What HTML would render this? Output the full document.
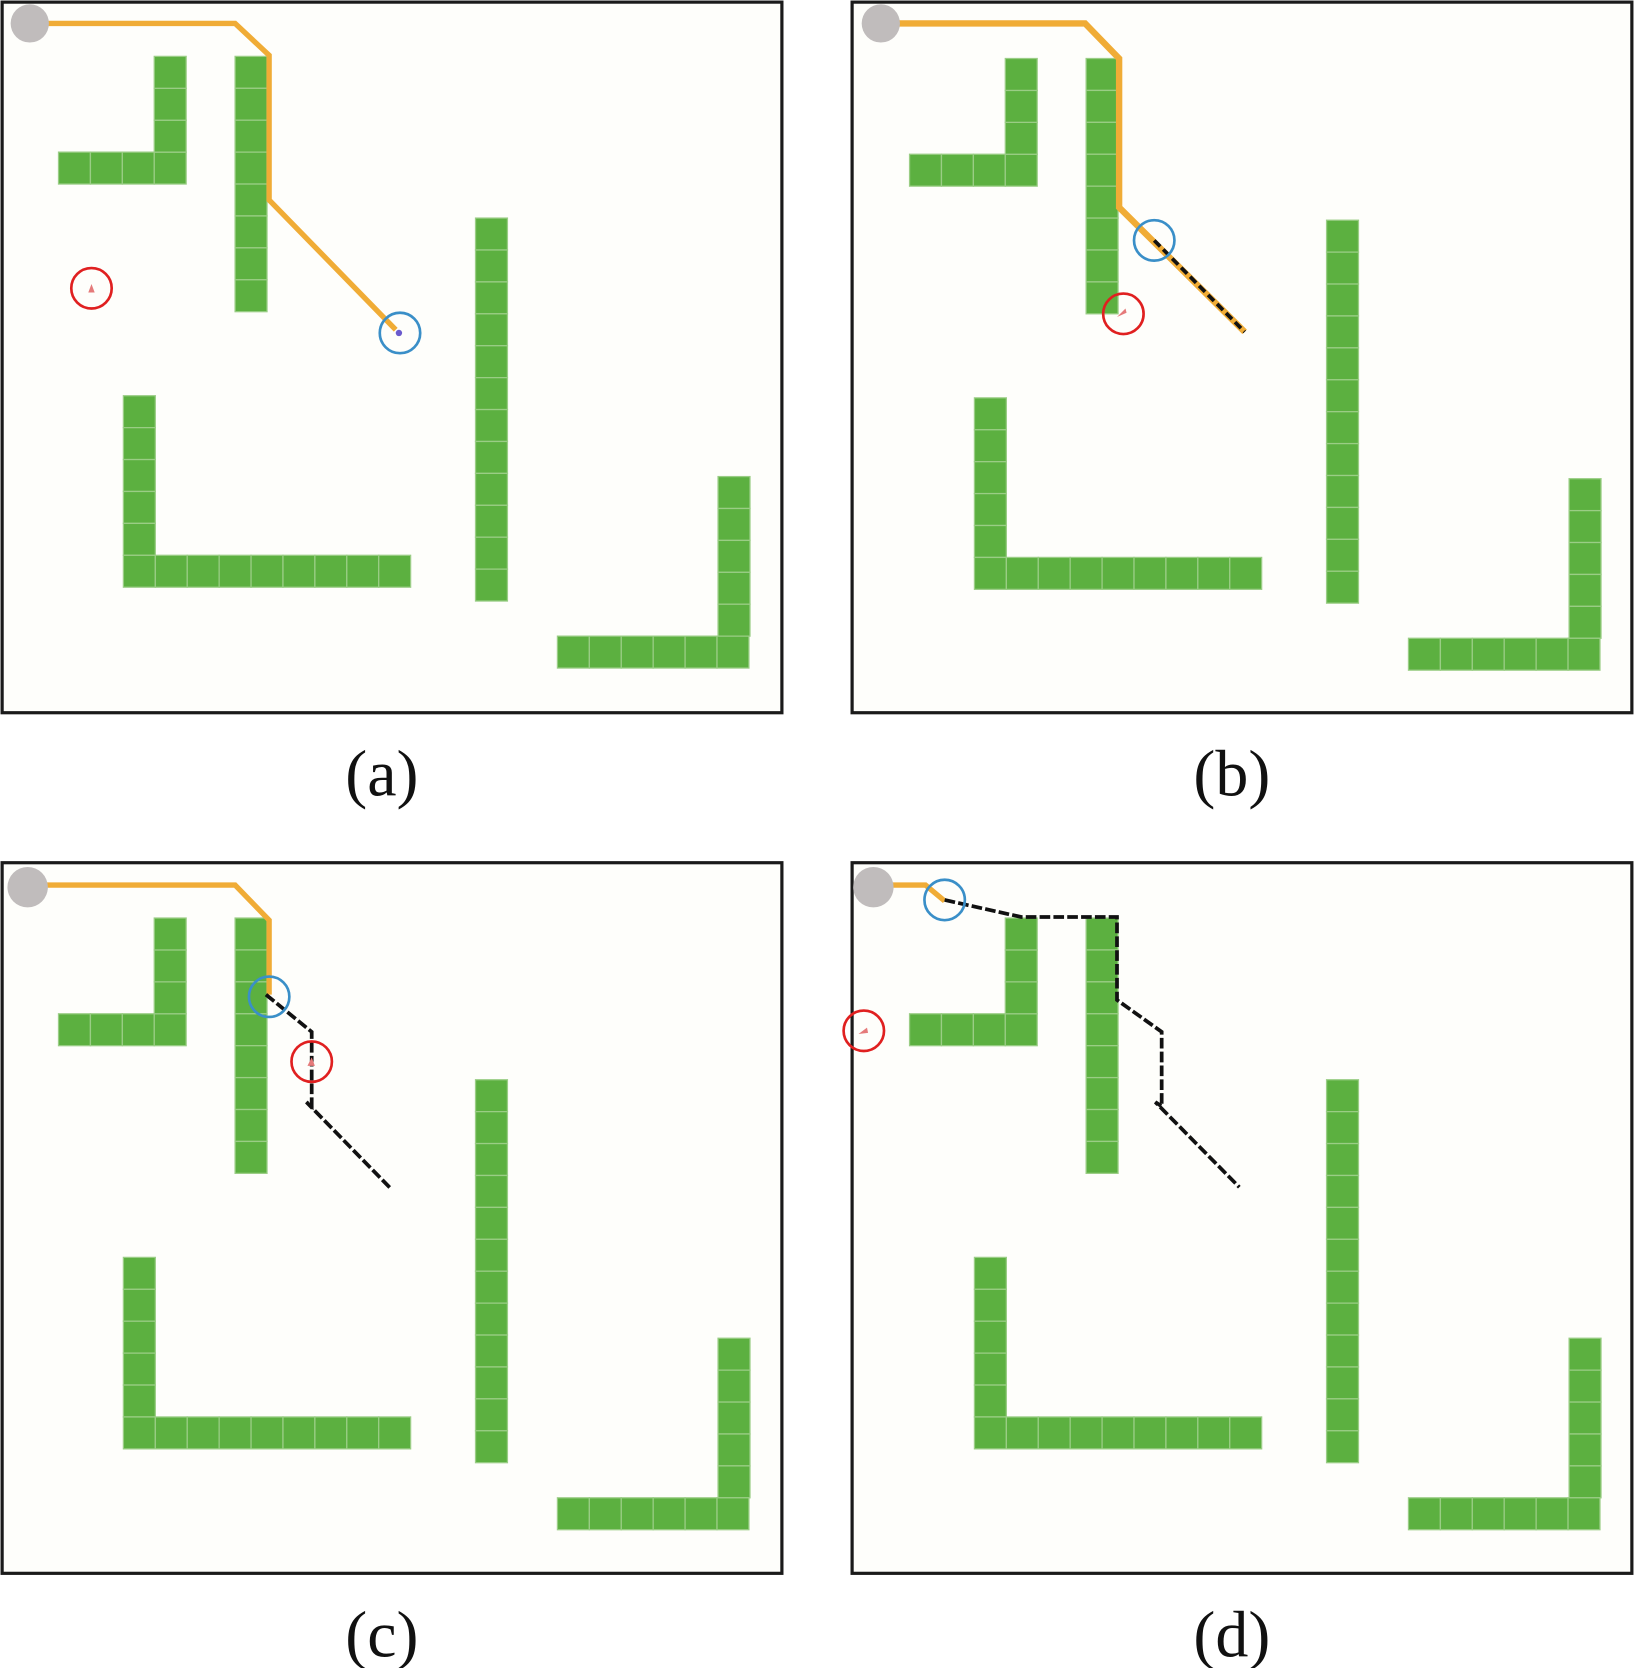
<!DOCTYPE html>
<html><head><meta charset="utf-8"><style>
html,body{margin:0;padding:0;background:#fff;}
svg{display:block;}
</style></head><body>
<svg width="1634" height="1668" viewBox="0 0 1536 1568" preserveAspectRatio="none" xmlns="http://www.w3.org/2000/svg">
<defs>
<g id="obs" fill="#5cb040" stroke="#9acd85" stroke-width="1.2">
  <rect x="55" y="143" width="30" height="30"/><rect x="85" y="143" width="30" height="30"/><rect x="115" y="143" width="30" height="30"/><rect x="145" y="143" width="30" height="30"/>
  <rect x="145" y="113" width="30" height="30"/><rect x="145" y="83" width="30" height="30"/><rect x="145" y="53" width="30" height="30"/>
  <rect x="221" y="53" width="30" height="30"/><rect x="221" y="83" width="30" height="30"/><rect x="221" y="113" width="30" height="30"/><rect x="221" y="143" width="30" height="30"/>
  <rect x="221" y="173" width="30" height="30"/><rect x="221" y="203" width="30" height="30"/><rect x="221" y="233" width="30" height="30"/><rect x="221" y="263" width="30" height="30"/>
  <rect x="116" y="372" width="30" height="30"/><rect x="116" y="402" width="30" height="30"/><rect x="116" y="432" width="30" height="30"/><rect x="116" y="462" width="30" height="30"/><rect x="116" y="492" width="30" height="30"/>
  <rect x="116" y="522" width="30" height="30"/><rect x="146" y="522" width="30" height="30"/><rect x="176" y="522" width="30" height="30"/><rect x="206" y="522" width="30" height="30"/><rect x="236" y="522" width="30" height="30"/>
  <rect x="266" y="522" width="30" height="30"/><rect x="296" y="522" width="30" height="30"/><rect x="326" y="522" width="30" height="30"/><rect x="356" y="522" width="30" height="30"/>
  <rect x="447" y="205" width="30" height="30"/><rect x="447" y="235" width="30" height="30"/><rect x="447" y="265" width="30" height="30"/><rect x="447" y="295" width="30" height="30"/>
  <rect x="447" y="325" width="30" height="30"/><rect x="447" y="355" width="30" height="30"/><rect x="447" y="385" width="30" height="30"/><rect x="447" y="415" width="30" height="30"/>
  <rect x="447" y="445" width="30" height="30"/><rect x="447" y="475" width="30" height="30"/><rect x="447" y="505" width="30" height="30"/><rect x="447" y="535" width="30" height="30"/>
  <rect x="675" y="448" width="30" height="30"/><rect x="675" y="478" width="30" height="30"/><rect x="675" y="508" width="30" height="30"/><rect x="675" y="538" width="30" height="30"/><rect x="675" y="568" width="30" height="30"/>
  <rect x="524" y="598" width="30" height="30"/><rect x="554" y="598" width="30" height="30"/><rect x="584" y="598" width="30" height="30"/><rect x="614" y="598" width="30" height="30"/><rect x="644" y="598" width="30" height="30"/><rect x="674" y="598" width="30" height="30"/>
</g>
</defs>

<rect x="2" y="2" width="733" height="668" fill="#fefefb" stroke="#1a1a1a" stroke-width="3"/>
<use href="#obs"/>
<polyline points="28,22 221,22 253,52 253,188 372,310" fill="none" stroke="#f0ac36" stroke-width="5"/>
<circle cx="28" cy="22" r="18" fill="#c0bcbc"/>
<circle cx="376" cy="313" r="19" fill="none" stroke="#3a8fc8" stroke-width="2.5"/>
<circle cx="375" cy="313" r="3" fill="#6a5acd"/>
<circle cx="86" cy="271" r="19" fill="none" stroke="#e02020" stroke-width="2.5"/>
<path d="M83,275 l3,-8 l3,8z" fill="#e57a7a"/>
<text x="359" y="748" font-family="Liberation Serif, serif" font-size="62" text-anchor="middle" fill="#111">(a)</text>

<rect x="801" y="2" width="733" height="668" fill="#fefefb" stroke="#1a1a1a" stroke-width="3"/>
<use href="#obs" transform="translate(800,2)"/>
<polyline points="828,22 1020,22 1052,55 1052,195 1170,312" fill="none" stroke="#f0ac36" stroke-width="6"/>
<line x1="1085" y1="226" x2="1170" y2="312" stroke="#111" stroke-width="3.5" stroke-dasharray="8,4"/>
<circle cx="828" cy="22" r="18" fill="#c0bcbc"/>
<circle cx="1085" cy="226" r="19" fill="none" stroke="#3a8fc8" stroke-width="2.5"/>
<circle cx="1056" cy="295" r="19" fill="none" stroke="#e02020" stroke-width="2.5"/>
<path d="M1050,298 l8,-8 l1,4z" fill="#e57a7a"/>
<text x="1158" y="748" font-family="Liberation Serif, serif" font-size="62" text-anchor="middle" fill="#111">(b)</text>

<rect x="2" y="811" width="733" height="668" fill="#fefefb" stroke="#1a1a1a" stroke-width="3"/>
<use href="#obs" transform="translate(0,810)"/>
<polyline points="28,832 221,832 253,865 253,935" fill="none" stroke="#f0ac36" stroke-width="5"/>
<polyline points="250,935 293,970 293,1040 288,1036 368,1118" fill="none" stroke="#111" stroke-width="3.5" stroke-dasharray="10,3"/>
<circle cx="26" cy="834" r="19" fill="#c0bcbc"/>
<circle cx="253" cy="937" r="19" fill="none" stroke="#3a8fc8" stroke-width="2.5"/>
<circle cx="293" cy="998" r="19" fill="none" stroke="#e02020" stroke-width="2.5"/>
<path d="M289,1002 l4,-8 l3,8z" fill="#e57a7a"/>
<text x="359" y="1557" font-family="Liberation Serif, serif" font-size="62" text-anchor="middle" fill="#111">(c)</text>

<rect x="801" y="811" width="733" height="668" fill="#fefefb" stroke="#1a1a1a" stroke-width="3"/>
<use href="#obs" transform="translate(800,810)"/>
<polyline points="822,832 870,832 888,847" fill="none" stroke="#f0ac36" stroke-width="5"/>
<polyline points="888,846 960,862 1050,862 1050,940 1092,970 1092,1040 1086,1036 1165,1116" fill="none" stroke="#111" stroke-width="3.5" stroke-dasharray="10,3"/>
<circle cx="821" cy="834" r="19" fill="#c0bcbc"/>
<circle cx="888" cy="846" r="19" fill="none" stroke="#3a8fc8" stroke-width="2.5"/>
<circle cx="812" cy="969" r="19" fill="none" stroke="#e02020" stroke-width="2.5"/>
<path d="M807,972 l8,-6 l1,5z" fill="#e57a7a"/>
<text x="1158" y="1557" font-family="Liberation Serif, serif" font-size="62" text-anchor="middle" fill="#111">(d)</text>
</svg>
</body></html>
